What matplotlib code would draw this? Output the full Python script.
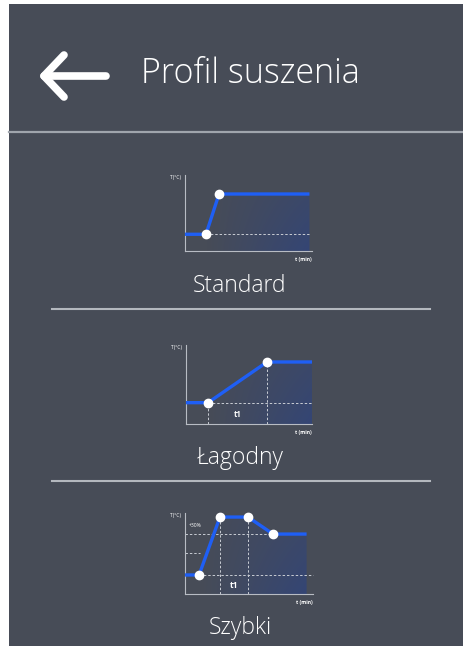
import numpy as np
import matplotlib
matplotlib.use("Agg")
import matplotlib.pyplot as plt
from matplotlib.patches import Polygon, Rectangle

plt.rcParams["font.family"] = ["Open Sans", "DejaVu Sans"]

W, H = 464, 650
BG = "#474c57"
BLUE = "#1f5ff5"
GRID = "#c9cdd4"

title = "Profil suszenia"
names = ["Standard", "Łagodny", "Szybki"]

# profile curves: time (% of axis) vs temperature (% of axis)
std_t = [0, 16.5, 26.8, 98]
std_T = [22, 22, 75, 75]
lag_t = [0, 17.5, 64.3, 100]
lag_T = [27, 27, 78.5, 78.5]
szy_t = [0, 11, 27.3, 49.2, 68.8, 95]
szy_T = [23.5, 23.5, 95, 95, 74, 74]


def px_axes(fig, x0, y0, x1, y1):
    return fig.add_axes([x0 / W, 1 - y1 / H, (x1 - x0) / W, (y1 - y0) / H])


def draw_profile(ax, t, T, marks, shade_from):
    ax.set_xlim(0, 100)
    ax.set_ylim(0, 100)
    ax.set_facecolor("none")
    for s in ("top", "right"):
        ax.spines[s].set_visible(False)
    for s in ("left", "bottom"):
        ax.spines[s].set_color("#b8bcc4")
        ax.spines[s].set_linewidth(0.8)
    ax.set_xticks([])
    ax.set_yticks([])

    # blue shading under the curve, fading to the left
    i0 = t.index(shade_from)
    verts = [(t[i0], 0)] + list(zip(t[i0:], T[i0:])) + [(t[-1], 0)]
    clip = Polygon(verts, closed=True, facecolor="none", edgecolor="none")
    ax.add_patch(clip)
    grad = np.zeros((50, 100, 4))
    grad[..., 0], grad[..., 1], grad[..., 2] = 0.13, 0.25, 0.58
    ramp_x = np.linspace(0.0, 0.5, 100)[None, :]
    ramp_y = np.linspace(1.0, 0.5, 50)[:, None]
    grad[..., 3] = ramp_x * ramp_y
    im = ax.imshow(grad, extent=(t[i0], t[-1], 0, 100), origin="lower",
                   aspect="auto", zorder=1)
    im.set_clip_path(clip)

    ax.plot(t, T, color=BLUE, lw=2.4, zorder=3, solid_capstyle="butt",
            clip_on=False)
    ax.plot([t[i] for i in marks], [T[i] for i in marks], "o", ms=6,
            color="white", mec="white", zorder=4, clip_on=False)

    ax.text(-3, 97, "T(°C)", fontsize=3.6, color="white", ha="right",
            va="center", clip_on=False)
    ax.text(100, -8, "t (min)", fontsize=3.6, color="white", ha="right",
            va="top", fontweight="bold", clip_on=False)


def dashed(ax, xs, ys):
    ax.plot(xs, ys, color=GRID, lw=0.7, dashes=(2.5, 2), zorder=2,
            clip_on=False)


fig = plt.figure(figsize=(W / 100, H / 100), dpi=100, facecolor="white")

bg = fig.add_axes([0, 0, 1, 1])
bg.set_xlim(0, W)
bg.set_ylim(H, 0)
bg.axis("off")
bg.add_patch(Rectangle((9, 4), W - 9, 642, facecolor=BG, edgecolor="none"))

# header: back arrow, title, divider
bg.plot([44, 106], [76, 76], color="white", lw=5.5, solid_capstyle="round")
bg.plot([64, 44, 64], [55, 76, 97], color="white", lw=5.5,
        solid_capstyle="round", solid_joinstyle="round")
bg.text(141, 74, title, fontsize=24.5, color="white", ha="left", va="center",
        fontweight="light")
bg.plot([9, W], [132, 132], color="#a0a5ad", lw=1.6)

# captions and separators
caption_y = [286, 458, 628]
for name, y in zip(names, caption_y):
    bg.text(240, y, name, fontsize=16.5, color="white", ha="center",
            va="center", fontweight="light")
for y in (309, 481):
    bg.plot([52, 430], [y, y], color="#b4b8be", lw=1.5)

# Standard
ax1 = px_axes(fig, 185, 175, 312, 251)
draw_profile(ax1, std_t, std_T, [1, 2], std_t[1])
dashed(ax1, [std_t[1], std_t[-1]], [std_T[1], std_T[1]])

# Łagodny
ax2 = px_axes(fig, 186, 345, 312, 424)
draw_profile(ax2, lag_t, lag_T, [1, 2], lag_t[1])
dashed(ax2, [lag_t[1], lag_t[-1]], [lag_T[1], lag_T[1]])
dashed(ax2, [lag_t[1], lag_t[1]], [0, lag_T[1]])
dashed(ax2, [lag_t[2], lag_t[2]], [0, lag_T[2]])
ax2.text((lag_t[1] + lag_t[2]) / 2, 12, "t1", fontsize=5.5, color="white",
         ha="center", va="center", fontweight="bold")

# Szybki
ax3 = px_axes(fig, 185, 513, 313, 594)
draw_profile(ax3, szy_t, szy_T, [1, 2, 3, 4], szy_t[1])
dashed(ax3, [0, szy_t[4]], [szy_T[4], szy_T[4]])
dashed(ax3, [szy_t[1], 100], [szy_T[1], szy_T[1]])
dashed(ax3, [0, 12], [50.6, 50.6])
dashed(ax3, [szy_t[2], szy_t[2]], [0, szy_T[2]])
dashed(ax3, [szy_t[3], szy_t[3]], [0, szy_T[3]])
ax3.text(3, 84, "+30%", fontsize=3.6, color="white", ha="left", va="center")
ax3.text((szy_t[2] + szy_t[3]) / 2, 11, "t1", fontsize=6, color="white",
         ha="center", va="center", fontweight="bold")

fig.savefig("out.png", dpi=100, facecolor="white")
